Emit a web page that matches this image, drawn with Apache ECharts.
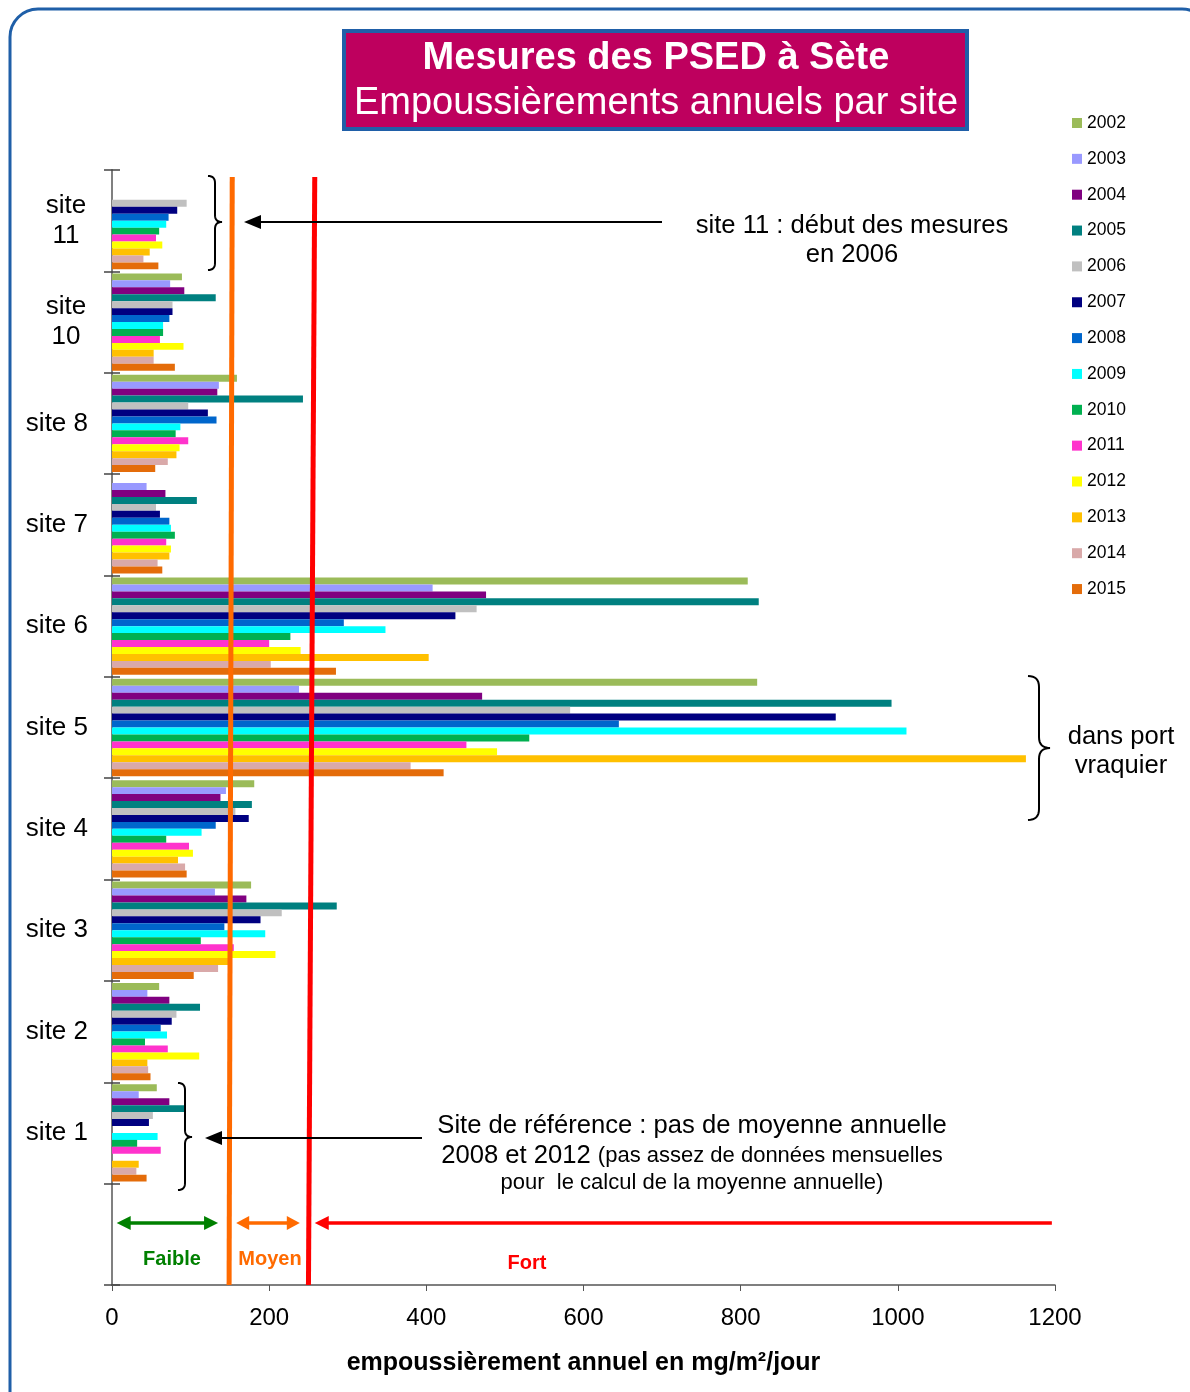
<!DOCTYPE html>
<html>
<head>
<meta charset="utf-8">
<script src="https://cdn.jsdelivr.net/npm/echarts@6/dist/echarts.min.js"></script>
<style>
html,body{margin:0;padding:0;background:#fff;}
#c{width:1190px;height:1392px;}
</style>
</head>
<body>
<div id="c"></div>
<script>
// categories, top to bottom
const sites = ['site\n11', 'site\n10', 'site 8', 'site 7', 'site 6', 'site 5', 'site 4', 'site 3', 'site 2', 'site 1', ''];
const years = ['2002','2003','2004','2005','2006','2007','2008','2009','2010','2011','2012','2013','2014','2015'];
const yearColors = ['#9BBB59','#9999FF','#800080','#008080','#C0C0C0','#000080','#0066CC','#00FFFF','#00B050','#FF33CC','#FFFF00','#FFC000','#D9A9A9','#E46C0A'];
// values per year, in site order above (null = no annual mean)
const v2002 = [null, 89, 159, null, 809, 821, 181, 177, 60, 57, null];
const v2003 = [null, 74, 136, 44, 408, 238, 145, 131, 45, 34, null];
const v2004 = [null, 92, 134, 68, 476, 471, 138, 171, 73, 73, null];
const v2005 = [null, 132, 243, 108, 823, 992, 178, 286, 112, 92, null];
const v2006 = [95, 77, 97, 56, 464, 583, 157, 216, 82, 52, null];
const v2007 = [83, 77, 122, 61, 437, 921, 174, 189, 76, 47, null];
const v2008 = [72, 73, 133, 73, 295, 645, 132, 143, 62, null, null];
const v2009 = [69, 65, 87, 75, 348, 1011, 114, 195, 70, 58, null];
const v2010 = [60, 65, 81, 80, 227, 531, 69, 113, 42, 32, null];
const v2011 = [56, 61, 97, 69, 200, 451, 98, 155, 71, 62, null];
const v2012 = [64, 91, 86, 75, 240, 490, 103, 208, 111, null, null];
const v2013 = [48, 53, 82, 73, 403, 1163, 84, 148, 45, 34, null];
const v2014 = [40, 53, 71, 58, 202, 380, 93, 135, 46, 31, null];
const v2015 = [59, 80, 55, 64, 285, 422, 95, 104, 49, 44, null];
const values = [v2002,v2003,v2004,v2005,v2006,v2007,v2008,v2009,v2010,v2011,v2012,v2013,v2014,v2015];
const xTicks = [0, 200, 400, 600, 800, 1000, 1200];
// threshold lines (value at top, value at bottom: hand-drawn, slightly slanted)
const moyenLine = [153, 149];
const fortLine = [258, 250];
// range arrows
const faibleRange = [6, 135];
const moyenRange = [158, 239];
const fortRange = [258, 1196];

const FONT = '"Liberation Sans", Arial, sans-serif';
const chart = echarts.init(document.getElementById('c'), null, {renderer: 'canvas'});

const GRID = {left: 112, right: 135, top: 170, bottom: 107};

const series = years.map((y, i) => ({
  name: y,
  type: 'bar',
  yAxisIndex: 0,
  data: values[i],
  barGap: '0%',
  barCategoryGap: '4%',
  itemStyle: {color: yearColors[i]},
  emphasis: {disabled: true}
}));

chart.setOption({
  animation: false,
  backgroundColor: '#fff',
  textStyle: {fontFamily: FONT},
  grid: GRID,
  legend: {
    orient: 'vertical',
    left: 1067,
    top: 109,
    itemWidth: 10,
    itemHeight: 10,
    itemGap: 17.85,
    icon: 'rect',
    textStyle: {fontSize: 17.5, color: '#000', fontFamily: FONT, lineHeight: 18},
    data: years
  },
  xAxis: {
    type: 'value',
    min: 0, max: 1200, interval: 200,
    name: 'empoussièrement annuel en mg/m²/jour',
    nameLocation: 'middle',
    nameGap: 66,
    nameTextStyle: {fontSize: 25, fontWeight: 'bold', color: '#000', fontFamily: FONT},
    axisLine: {show: true, lineStyle: {color: '#555', width: 1.5}},
    axisTick: {show: true, length: 6, lineStyle: {color: '#555'}},
    axisLabel: {fontSize: 24, color: '#000', margin: 21, fontFamily: FONT,
      formatter: v => xTicks.includes(v) ? String(v) : ''},
    splitLine: {show: false}
  },
  yAxis: [{
    type: 'category',
    inverse: true,
    data: sites,
    axisLine: {show: true, lineStyle: {color: '#808080', width: 2}},
    axisTick: {show: true, length: 8, lineStyle: {color: '#444', width: 1.5}},
    axisLabel: {
      fontSize: 26, color: '#000', margin: 24, fontFamily: FONT,
      formatter: s => s.includes('\n') ? s.split('\n').map(t => '{c|' + t + '}').join('\n') : s,
      rich: {c: {width: 44, align: 'center', fontSize: 26, lineHeight: 30, fontFamily: FONT, color: '#000'}}
    }
  }, {
    type: 'category',
    inverse: true,
    position: 'left',
    data: sites,
    axisLine: {show: false},
    axisTick: {show: true, inside: true, length: 8, lineStyle: {color: '#444', width: 1.5}},
    axisLabel: {show: false}
  }],
  series: series
});

// annotations
const xp = v => chart.convertToPixel({xAxisIndex: 0}, v);
const yTop = GRID.top, yBot = 1392 - GRID.bottom;

function quad(p0, p1, p2, pts) {
  for (let k = 1; k <= 8; k++) {
    const t = k / 8, a = (1 - t) * (1 - t), b = 2 * (1 - t) * t, c = t * t;
    pts.push([a * p0[0] + b * p1[0] + c * p2[0], a * p0[1] + b * p1[1] + c * p2[1]]);
  }
}
function brace(x, y1, y2, w, ym) {
  const h = w / 2, pts = [[x, y1]];
  quad([x, y1], [x + h, y1], [x + h, y1 + h], pts);
  pts.push([x + h, ym - h]);
  quad([x + h, ym - h], [x + h, ym], [x + w, ym], pts);
  quad([x + w, ym], [x + h, ym], [x + h, ym + h], pts);
  pts.push([x + h, y2 - h]);
  quad([x + h, y2 - h], [x + h, y2], [x, y2], pts);
  return {type: 'polyline', shape: {points: pts}, style: {fill: null, stroke: '#000', lineWidth: 2}, z: 20};
}
function arrowHead(x, y, dir, len, half, color) {
  return {type: 'polygon', shape: {points: [[x, y], [x - dir * len, y - half], [x - dir * len, y + half]]},
    style: {fill: color}, z: 20};
}
function hline(x1, x2, y, color, w) {
  return {type: 'line', shape: {x1: x1, y1: y, x2: x2, y2: y}, style: {stroke: color, lineWidth: w}, z: 20};
}
function txt(x, y, text, size, color, weight, align) {
  return {type: 'text', x: x, y: y, z: 30,
    style: {text: text, fontSize: size, fill: color, fontWeight: weight || 'normal', fontFamily: FONT,
      textAlign: align || 'center', textVerticalAlign: 'middle'}};
}

const g = [];
// outer rounded border
g.push({type: 'rect', shape: {x: 10, y: 9, width: 1200, height: 1410, r: 28},
  style: {fill: null, stroke: '#1F5FA8', lineWidth: 3}, z: 1});
// title box
g.push({type: 'rect', shape: {x: 344, y: 31, width: 623, height: 98},
  style: {fill: '#BE005E', stroke: '#1F5FA8', lineWidth: 4}, z: 10});
g.push(txt(656, 59, 'Mesures des PSED à Sète', 38, '#fff', 'bold'));
g.push(txt(656, 104, 'Empoussièrements annuels par site', 38, '#fff', 'normal'));

// threshold lines
g.push({type: 'line', shape: {x1: xp(moyenLine[0]), y1: yTop + 7, x2: xp(moyenLine[1]), y2: yBot},
  style: {stroke: '#FF6A00', lineWidth: 5}, z: 15});
g.push({type: 'line', shape: {x1: xp(fortLine[0]), y1: yTop + 7, x2: xp(fortLine[1]), y2: yBot},
  style: {stroke: '#FF0000', lineWidth: 5}, z: 15});

// range arrows
const ay = 1223;
g.push(hline(xp(faibleRange[0]) + 8, xp(faibleRange[1]) - 8, ay, '#008000', 3.5));
g.push(arrowHead(xp(faibleRange[0]), ay, -1, 14, 7, '#008000'));
g.push(arrowHead(xp(faibleRange[1]), ay, 1, 14, 7, '#008000'));
g.push(hline(xp(moyenRange[0]) + 8, xp(moyenRange[1]) - 8, ay, '#FF6A00', 3.5));
g.push(arrowHead(xp(moyenRange[0]), ay, -1, 13, 7, '#FF6A00'));
g.push(arrowHead(xp(moyenRange[1]), ay, 1, 13, 7, '#FF6A00'));
g.push(hline(xp(fortRange[0]) + 8, xp(fortRange[1]), ay, '#FF0000', 3.5));
g.push(arrowHead(xp(fortRange[0]), ay, -1, 14, 7, '#FF0000'));
g.push(txt(172, 1259, 'Faible', 20, '#008000', 'bold'));
g.push(txt(270, 1259, 'Moyen', 20, '#FF6A00', 'bold'));
g.push(txt(527, 1263, 'Fort', 20, '#FF0000', 'bold'));

// site 11 annotation
g.push(brace(208, 176, 270, 14, 222));
g.push(hline(258, 662, 222, '#000', 2));
g.push(arrowHead(244, 222, -1, 17, 7, '#000'));
g.push(txt(852, 226, 'site 11 : début des mesures', 25.6, '#000'));
g.push(txt(852, 255, 'en 2006', 25.6, '#000'));

// site 5 annotation
g.push(brace(1028, 676, 820, 22, 748));
g.push(txt(1121, 737, 'dans port', 25.6, '#000'));
g.push(txt(1121, 766, 'vraquier', 25.6, '#000'));

// site 1 annotation
g.push(brace(178, 1083, 1190, 14, 1137));
g.push(hline(220, 422, 1138, '#000', 2));
g.push(arrowHead(205, 1138, -1, 17, 7, '#000'));
g.push(txt(692, 1126, 'Site de référence : pas de moyenne annuelle', 25.6, '#000'));
g.push({type: 'text', x: 692, y: 1156, z: 30,
  style: {text: '{a|2008 et 2012 }{b|(pas assez de données mensuelles}', textAlign: 'center', textVerticalAlign: 'middle',
    rich: {a: {fontSize: 25.6, fontFamily: FONT, fill: '#000'}, b: {fontSize: 22, fontFamily: FONT, fill: '#000'}}}});
g.push(txt(692, 1183, 'pour  le calcul de la moyenne annuelle)', 22, '#000'));

chart.setOption({graphic: g});
</script>
</body>
</html>
